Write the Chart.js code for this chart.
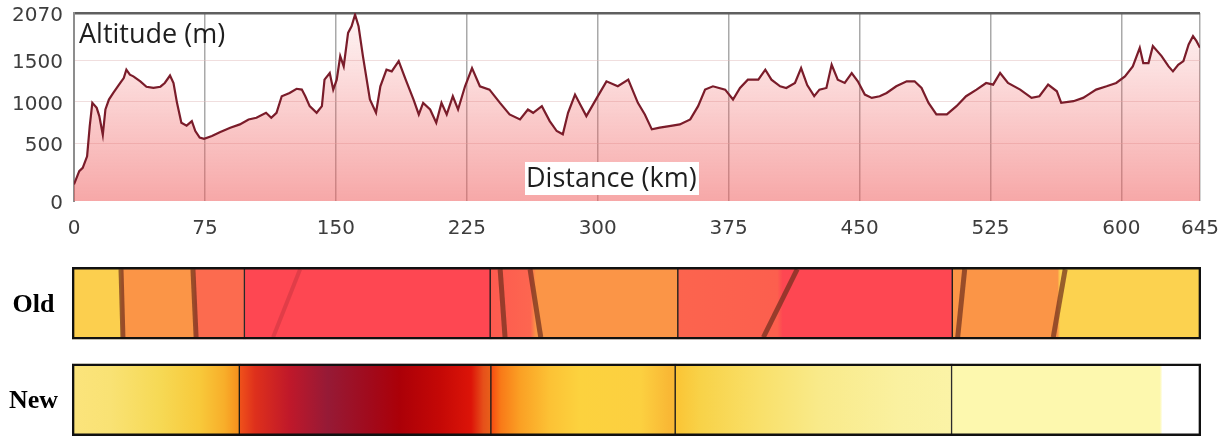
<!DOCTYPE html>
<html>
<head>
<meta charset="utf-8">
<script src="https://cdn.jsdelivr.net/npm/chart.js@4.4.1/dist/chart.umd.min.js"></script>
<style>
  html, body { margin: 0; padding: 0; background: #fff; overflow: hidden; }
  #wrap { position: relative; width: 1227px; height: 436px; overflow: hidden; }
  #profileChart { position: absolute; left: 0; top: 0; }
  #stripChart { position: absolute; left: 0; top: 255px; }
  .lbl { position: absolute; font-family: 'Open Sans', sans-serif; font-size: 27px; line-height: 27px; color: #1e1e1e; white-space: nowrap; }
  #altLabel { left: 79px; top: 19px; }
  #distLabel { left: 525px; top: 162px; background: #fff; padding: 1px 2px 5px 1px; }
</style>
</head>
<body>
<div id="wrap">
  <canvas id="profileChart" width="1227" height="245"></canvas>
  <canvas id="stripChart" width="1227" height="193"></canvas>
  <div id="altLabel" class="lbl">Altitude (m)</div>
  <div id="distLabel" class="lbl">Distance (km)</div>
</div>
<script>
// elevation profile
const xTickValues = [0, 75, 150, 225, 300, 375, 450, 525, 600, 645];
const yTickValues = [-200, 500, 1000, 1500, 2070];
const yTickLabels = ['0', '500', '1000', '1500', '2070'];

const distanceKm = [
  0, 3, 5, 7.5, 9, 10.5, 13, 14.5, 16.5, 18, 20, 22.5, 24.5, 26.5, 28.5, 30, 32, 34, 38, 41.5,
  45.5, 49.5, 52, 55, 57, 59, 61.5, 64.5, 67.5, 69.5, 72, 74.5, 79, 83.5, 89.5, 95, 100, 104.5, 110, 113,
  116, 119, 123.5, 127.5, 130.5, 132.5, 135, 139, 142, 143.5, 146.5, 148.5, 150.5, 152.5, 154.5, 157, 159, 161, 163, 165.5,
  169.5, 173, 175.5, 179, 182, 186, 190, 194.5, 197.5, 200, 204, 207.5, 210.5, 213.5, 217, 220, 224, 228, 232.5, 238,
  244, 249.5, 255.5, 260, 263, 268, 272.5, 276.5, 280, 283, 287, 290.5, 293.5, 299.5, 305, 311.5, 317.5, 323, 327, 331,
  335.5, 341, 347, 353, 357.5, 361.5, 366, 373, 377.5, 381.5, 386, 392, 396, 399.5, 404.5, 408, 413, 416.5, 420, 424,
  427, 431, 434, 437.5, 441.5, 445.5, 449, 453, 457, 461.5, 465.5, 471, 477, 481.5, 485.5, 489.5, 494, 500, 505.5, 511,
  517, 522.5, 526.5, 530.5, 535, 542, 548.5, 553, 558, 563, 565.5, 572.5, 578, 581, 585.5, 591.5, 597, 602, 606.5, 610.5,
  612.5, 615.5, 618, 623, 627, 629.5, 632.5, 635.5, 638.5, 641, 643, 645
];
const altitudeM = [
  0, 160, 200, 340, 700, 985, 925, 825, 600, 905, 1025, 1105, 1165, 1225, 1285, 1385, 1325, 1305, 1245, 1180,
  1165, 1180, 1225, 1315, 1225, 985, 745, 710, 765, 645, 565, 550, 585, 630, 685, 725, 785, 805, 865, 805,
  865, 1065, 1105, 1155, 1145, 1065, 945, 865, 945, 1265, 1345, 1145, 1265, 1550, 1425, 1830, 1910, 2050, 1910, 1550,
  1025, 865, 1185, 1385, 1365, 1490, 1265, 1025, 845, 985, 905, 745, 985, 845, 1065, 905, 1185, 1405, 1185, 1145,
  985, 845, 785, 905, 865, 945, 765, 645, 605, 865, 1085, 945, 825, 1045, 1245, 1185, 1265, 985, 845, 665,
  685, 705, 725, 785, 945, 1145, 1185, 1145, 1025, 1165, 1265, 1265, 1385, 1265, 1185, 1165, 1225, 1405, 1200, 1066,
  1145, 1165, 1445, 1265, 1225, 1345, 1245, 1085, 1045, 1065, 1105, 1185, 1245, 1245, 1165, 985, 845, 845, 945, 1065,
  1145, 1225, 1205, 1345, 1225, 1145, 1045, 1065, 1205, 1125, 985, 1005, 1045, 1085, 1145, 1185, 1225, 1305, 1425, 1650,
  1465, 1465, 1670, 1550, 1425, 1365, 1445, 1490, 1690, 1790, 1730, 1650
];

// stage strips (km along the route)
const rowLabels = ['Old', 'New'];
const oldStages = [0, 98.5, 238.9, 346.1, 502.9, 645];
const newStages = [0, 95.6, 239.3, 344.6, 502.5, 645];
const oldColorStops = [
  [0, '#fccf4e'], [27.5, '#fccf4e'], [28.6, '#fb9547'], [69.6, '#fb9547'], [70.4, '#fc6b4f'],
  [98.5, '#fc6b4f'], [98.5, '#fe4752'], [238.9, '#fe4752'], [238.9, '#fd5a4f'], [262, '#fd6650'],
  [265, '#fb9547'], [346.1, '#fb9547'], [346.1, '#fc644e'], [403, '#fc5f4e'], [406, '#fe4752'],
  [502.9, '#fe4752'], [502.9, '#fb9547'], [563, '#fb9547'], [564.5, '#fcd24f'], [645, '#fcd24f']
];
const newColorStops = [
  [0, '#fbe47c'], [22, '#f9e274'], [50, '#f6d955'], [73, '#f8c93a'], [87, '#f8ae2a'], [95.6, '#f68f1c'],
  [95.6, '#f0521a'], [104.6, '#de301c'], [124.6, '#bf182a'], [146, '#961a36'], [170, '#a10a1c'],
  [187, '#ab0008'], [210, '#c40806'], [228, '#dc1408'], [235, '#e6501a'], [239.3, '#e8601a'],
  [239.3, '#f74a12'], [245, '#f97a18'], [256, '#fba024'], [273, '#fcc235'], [290, '#fcd23e'],
  [325, '#fcd040'], [341, '#f9b835'], [344.6, '#f9b835'], [344.6, '#fbc434'], [359, '#f8d248'],
  [393, '#f9e06a'], [427, '#f9ea8a'], [473, '#faf1a0'], [502.5, '#fbf3a6'], [502.5, '#fdf8ae'],
  [621.5, '#fdf8ae'], [623, '#ffffff'], [645, '#ffffff']
];
// dark streaks in the old strip: km at top edge, km at bottom edge
const oldDarkLines = [[28, 29.1], [69.1, 70.9], [244.6, 247.4], [261.7, 267.8], [414.3, 395], [510, 506], [567.4, 560.6]];
const oldFaintLines = [[130.3, 114.9]];

const routeKm = 645;
const stripHeight = 193;
const barThickness = 72;

function fillGradient(context) {
  const area = context.chart.chartArea;
  if (!area) return 'rgba(240,96,96,0.3)';
  const g = context.chart.ctx.createLinearGradient(0, area.top, 0, area.bottom);
  g.addColorStop(0, 'rgba(240,96,96,0.06)');
  g.addColorStop(0.3, 'rgba(240,96,96,0.2)');
  g.addColorStop(1, 'rgba(240,96,96,0.55)');
  return g;
}

// stop the scales from reserving extra room for edge labels
function noEdgePadding(s) {
  s.paddingTop = 0;
  s.paddingBottom = 0;
  s.paddingLeft = 0;
  s.paddingRight = 0;
}

new Chart(document.getElementById('profileChart'), {
  type: 'line',
  data: {
    datasets: [{
      data: distanceKm.map((d, i) => ({ x: d, y: altitudeM[i] })),
      borderColor: '#7a1c2a',
      borderWidth: 2.2,
      pointRadius: 0,
      tension: 0,
      fill: 'start',
      backgroundColor: fillGradient
    }]
  },
  options: {
    responsive: false,
    animation: false,
    devicePixelRatio: 1,
    layout: { padding: { top: 13, right: 27, left: 0, bottom: 0 } },
    plugins: { legend: { display: false }, tooltip: { enabled: false } },
    scales: {
      x: {
        type: 'linear', min: 0, max: routeKm,
        afterBuildTicks: (s) => { s.ticks = xTickValues.map((v) => ({ value: v })); },
        afterFit: (s) => { s.height = 44; noEdgePadding(s); },
        grid: { color: '#a9a9a9', lineWidth: 1.5, drawTicks: false },
        border: { display: false },
        ticks: { font: { family: 'DejaVu Sans', size: 20 }, color: '#3d3d3d', padding: 16, maxRotation: 0, autoSkip: false }
      },
      y: {
        type: 'linear', min: yTickValues[0], max: yTickValues[yTickValues.length - 1],
        afterBuildTicks: (s) => { s.ticks = yTickValues.map((v) => ({ value: v })); },
        afterFit: (s) => { s.width = 74; noEdgePadding(s); },
        grid: {
          drawTicks: false,
          color: (c) => c.tick.value === 2070 ? '#5f5f5f' : (c.tick.value === -200 ? 'rgba(0,0,0,0)' : 'rgba(225,190,190,0.5)'),
          lineWidth: (c) => c.tick.value === 2070 ? 2.5 : 1
        },
        border: { color: '#8d8d8d', width: 2 },
        ticks: {
          callback: (v, i) => yTickLabels[i],
          font: { family: 'DejaVu Sans', size: 20 }, color: '#3d3d3d', padding: 11, labelOffset: 3
        }
      }
    }
  }
});

function rowGradient(chart, stops) {
  const xs = chart.scales.x;
  const x0 = xs.getPixelForValue(0);
  const x1 = xs.getPixelForValue(routeKm);
  const g = chart.ctx.createLinearGradient(x0, 0, x1, 0);
  stops.forEach(([km, c]) => g.addColorStop(km / routeKm, c));
  return g;
}

function rowCentre(row) {
  return stripHeight / 4 + row * stripHeight / 2;
}

function outlineDataset(row) {
  const data = [null, null];
  data[row] = [0, routeKm];
  return {
    type: 'bar', data, backgroundColor: 'rgba(0,0,0,0)', borderColor: '#111',
    borderWidth: 2, borderSkipped: false, barThickness, grouped: false
  };
}

function segmentDatasets(row, stages, stops) {
  const out = [];
  for (let i = 0; i < stages.length - 1; i++) {
    const data = [null, null];
    data[row] = [stages[i], stages[i + 1]];
    out.push({
      type: 'bar', data,
      backgroundColor: (c) => c.chart.chartArea ? rowGradient(c.chart, stops) : stops[0][1],
      borderColor: '#1b1b1b', borderWidth: { left: 1, right: 1, top: 0, bottom: 0 },
      borderSkipped: false, barThickness, grouped: false
    });
  }
  return out;
}

function streakDatasets(row, lines, color, width) {
  const top = rowCentre(row) - barThickness / 2 + 2;
  const bottom = rowCentre(row) + barThickness / 2 - 2;
  return lines.map(([kmTop, kmBottom]) => ({
    type: 'line', yAxisID: 'yl',
    data: [{ x: kmTop, y: top }, { x: kmBottom, y: bottom }],
    borderColor: color, borderWidth: width, pointRadius: 0, fill: false
  }));
}

new Chart(document.getElementById('stripChart'), {
  type: 'bar',
  data: {
    labels: rowLabels,
    datasets: [
      outlineDataset(0),
      outlineDataset(1),
      ...streakDatasets(0, oldDarkLines, 'rgba(110,45,28,0.7)', 5),
      ...streakDatasets(0, oldFaintLines, 'rgba(160,40,50,0.3)', 4),
      ...segmentDatasets(0, oldStages, oldColorStops),
      ...segmentDatasets(1, newStages, newColorStops)
    ]
  },
  options: {
    indexAxis: 'y',
    responsive: false,
    animation: false,
    devicePixelRatio: 1,
    layout: { padding: { top: 0, right: 26, left: 0, bottom: 0 } },
    plugins: { legend: { display: false }, tooltip: { enabled: false } },
    scales: {
      x: { type: 'linear', min: 0, max: routeKm, display: false, offset: false },
      y: {
        type: 'category', offset: true,
        afterFit: (s) => { s.width = 72; noEdgePadding(s); },
        grid: { display: false, drawTicks: false },
        border: { display: false },
        ticks: { font: { family: 'Liberation Serif', size: 26, weight: 'bold' }, color: '#000', crossAlign: 'center', padding: 14, labelOffset: 2 }
      },
      yl: { type: 'linear', axis: 'y', display: false, min: 0, max: stripHeight, reverse: true, offset: false }
    }
  }
});
</script>
</body>
</html>
